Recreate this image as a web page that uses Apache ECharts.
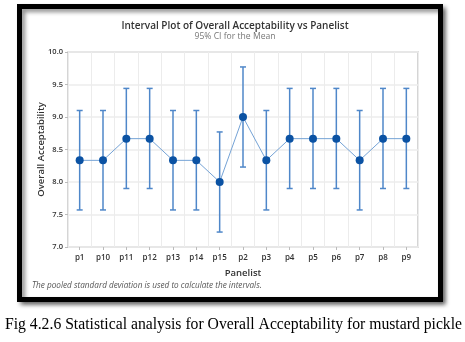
<!DOCTYPE html>
<html>
<head>
<meta charset="utf-8">
<script src="https://cdn.jsdelivr.net/npm/echarts@6/dist/echarts.min.js"></script>
<style>
  html, body { margin: 0; padding: 0; background: #fff; }
  #chart { width: 465px; height: 342px; }
</style>
</head>
<body>
<div id="chart"></div>
<script>
// Panelist categories and interval statistics (mean with 95% CI bounds)
var panelists = ['p1', 'p10', 'p11', 'p12', 'p13', 'p14', 'p15', 'p2', 'p3', 'p4', 'p5', 'p6', 'p7', 'p8', 'p9'];
var means = [8.333, 8.333, 8.667, 8.667, 8.333, 8.333, 8.0, 9.0, 8.333, 8.667, 8.667, 8.667, 8.333, 8.667, 8.667];
var lowerCI = [7.57, 7.57, 7.90, 7.90, 7.57, 7.57, 7.23, 8.23, 7.57, 7.90, 7.90, 7.90, 7.57, 7.90, 7.90];
var upperCI = [9.10, 9.10, 9.44, 9.44, 9.10, 9.10, 8.77, 9.77, 9.10, 9.44, 9.44, 9.44, 9.10, 9.44, 9.44];
var yTicks = [7.0, 7.5, 8.0, 8.5, 9.0, 9.5, 10.0];

var chart = echarts.init(document.getElementById('chart'), null, { renderer: 'canvas' });

var uiFont = '"Open Sans", "Noto Sans", sans-serif';

var intervalData = panelists.map(function (p, i) { return [i, lowerCI[i], upperCI[i]]; });

chart.setOption({
  animation: false,
  backgroundColor: '#fff',
  graphic: [
    {
      type: 'rect',
      z: -10,
      shape: { x: 19.5, y: 6.5, width: 421, height: 293 },
      style: {
        fill: '#fff',
        stroke: '#000',
        lineWidth: 5,
        shadowBlur: 4,
        shadowOffsetX: 3,
        shadowOffsetY: 3,
        shadowColor: 'rgba(0,0,0,0.45)'
      }
    },
    {
      type: 'text',
      left: 32,
      top: 282,
      style: {
        text: 'The pooled standard deviation is used to calculate the intervals.',
        font: 'italic 8.2px ' + uiFont,
        fill: '#555'
      }
    },
    {
      type: 'text',
      left: 5,
      top: 317,
      style: {
        text: 'Fig 4.2.6 Statistical analysis for Overall Acceptability for mustard pickle',
        font: '15.7px "Liberation Serif", "Times New Roman", serif',
        fill: '#000'
      }
    }
  ],
  title: {
    text: 'Interval Plot of Overall Acceptability vs Panelist',
    subtext: '95% CI for the Mean',
    left: 230,
    textAlign: 'center',
    top: 16,
    itemGap: 1,
    textStyle: { fontFamily: uiFont, fontSize: 10, fontWeight: 600, color: '#333' },
    subtextStyle: { fontFamily: uiFont, fontSize: 8.6, color: '#777' }
  },
  grid: {
    left: 68,
    right: 47,
    top: 52,
    bottom: 95,
    show: true,
    borderColor: '#c8c8c8',
    borderWidth: 1.5,
    backgroundColor: '#fff'
  },
  xAxis: {
    type: 'category',
    data: panelists,
    boundaryGap: true,
    name: 'Panelist',
    nameLocation: 'middle',
    nameGap: 21,
    nameMoveOverlap: false,
    nameTextStyle: { fontFamily: uiFont, fontSize: 9.5, fontWeight: 600, color: '#333' },
    axisLine: { show: false },
    axisTick: { show: true, alignWithLabel: true, length: 3, lineStyle: { color: '#bbb' } },
    axisLabel: { fontFamily: uiFont, fontSize: 8, fontWeight: 600, color: '#333', margin: 7 },
    splitLine: { show: true, interval: 0, lineStyle: { color: '#ececec', width: 1 } }
  },
  yAxis: {
    type: 'value',
    min: 7,
    max: 10,
    interval: 0.5,
    name: 'Overall Acceptability',
    nameLocation: 'middle',
    nameGap: 22,
    nameMoveOverlap: false,
    nameTextStyle: { fontFamily: uiFont, fontSize: 9.5, fontWeight: 600, color: '#333' },
    axisLine: { show: false },
    axisTick: { show: true, length: 3, lineStyle: { color: '#bbb' } },
    axisLabel: {
      fontFamily: uiFont, fontSize: 7.5, fontWeight: 600, color: '#333', margin: 5,
      formatter: function (v) {
        var t = yTicks.find(function (k) { return Math.abs(k - v) < 1e-6; });
        return t !== undefined ? t.toFixed(1) : '';
      }
    },
    splitLine: { show: true, lineStyle: { color: '#ececec', width: 1.5 } }
  },
  series: [
    {
      type: 'custom',
      name: 'CI',
      z: 2,
      data: intervalData,
      renderItem: function (params, api) {
        var x = api.value(0);
        var lo = api.coord([x, api.value(1)]);
        var hi = api.coord([x, api.value(2)]);
        var cap = 3;
        var style = { stroke: '#4f87c9', lineWidth: 1.5 };
        return {
          type: 'group',
          children: [
            { type: 'line', shape: { x1: hi[0], y1: hi[1], x2: lo[0], y2: lo[1] }, style: style },
            { type: 'line', shape: { x1: hi[0] - cap, y1: hi[1], x2: hi[0] + cap, y2: hi[1] }, style: style },
            { type: 'line', shape: { x1: lo[0] - cap, y1: lo[1], x2: lo[0] + cap, y2: lo[1] }, style: style }
          ]
        };
      }
    },
    {
      type: 'line',
      name: 'Mean',
      z: 3,
      data: means,
      symbol: 'circle',
      symbolSize: 8,
      lineStyle: { color: '#75a3d6', width: 1 },
      itemStyle: { color: '#0b52a3' }
    }
  ]
});
</script>
</body>
</html>
